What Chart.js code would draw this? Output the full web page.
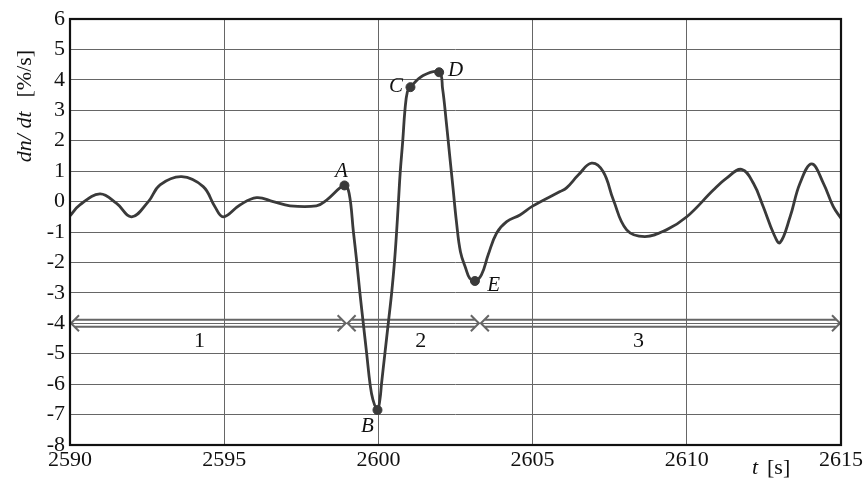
<!DOCTYPE html>
<html>
<head>
<meta charset="utf-8">
<script src="https://cdn.jsdelivr.net/npm/chart.js@4/dist/chart.umd.min.js"></script>
<style>
  html, body { margin: 0; padding: 0; background: #fff; }
  #wrap { width: 868px; height: 484px; position: relative; }
</style>
</head>
<body>
<div id="wrap"><canvas id="c"></canvas></div>
<script>
// time axis [s] and rate of change dn/dt [%/s]
const tSec = [2590, 2590.32, 2590.97, 2591.51, 2592.0, 2592.54, 2592.92, 2593.62, 2594.32, 2594.7,
  2594.97, 2595.51, 2596.05, 2596.59, 2597.13, 2597.99, 2598.32, 2598.9, 2599.05, 2599.19,
  2599.3, 2599.4, 2599.51, 2599.62, 2599.73, 2599.82, 2599.97, 2600.05, 2600.1, 2600.21,
  2600.32, 2600.43, 2600.52, 2600.59, 2600.65, 2600.71, 2600.79, 2600.86, 2600.94, 2601.04,
  2601.45, 2601.97, 2602.08, 2602.2, 2602.31, 2602.42, 2602.53, 2602.66, 2602.83, 2602.96,
  2603.13, 2603.34, 2603.56, 2603.83, 2604.16, 2604.59, 2605.0, 2605.89, 2606.1, 2606.48,
  2606.91, 2607.29, 2607.62, 2608.05, 2608.64, 2609.34, 2610.0, 2610.86, 2611.29, 2611.78,
  2612.16, 2612.48, 2612.81, 2613.02, 2613.35, 2613.67, 2614.05, 2614.43, 2614.75, 2615];
const dndt = [-0.47, -0.11, 0.25, -0.06, -0.5, 0.0, 0.55, 0.82, 0.49, -0.17,
  -0.5, -0.11, 0.13, 0.0, -0.14, -0.14, 0.05, 0.53, 0.27, -1,
  -2, -3, -4, -5, -6, -6.5, -6.85, -6.5, -6, -5,
  -4, -3, -2, -1, 0, 1, 2, 3, 3.61, 3.76,
  4.14, 4.25, 3.72, 2.63, 1.53, 0.44, -0.66, -1.65, -2.19, -2.52,
  -2.61, -2.41, -1.75, -1.04, -0.66, -0.44, -0.15, 0.33, 0.45, 0.87,
  1.26, 0.98, 0.05, -0.93, -1.15, -0.93, -0.5, 0.38, 0.77, 1.06,
  0.6, -0.17, -1.04, -1.35, -0.5, 0.6, 1.24, 0.6, -0.17, -0.55];

// marked points A..E
const markNames = ['A', 'B', 'C', 'D', 'E'];
const markT = [2598.9, 2599.97, 2601.04, 2601.97, 2603.13];
const markV = [0.53, -6.85, 3.76, 4.25, -2.61];
const markLabelT = [2598.8, 2599.64, 2600.57, 2602.5, 2603.74];
const markLabelV = [1.0, -7.4, 3.78, 4.32, -2.76];

// phases 1..3 shown as double arrows at dn/dt = -4
const phaseNames = ['1', '2', '3'];
const phaseStart = [2590, 2598.97, 2603.29];
const phaseEnd = [2598.97, 2603.29, 2615];
const phaseLevel = -4;
const phaseLabelT = [2594.2, 2601.37, 2608.43];
const phaseLabelV = -4.6;

const xTicks = [2590, 2595, 2600, 2605, 2610, 2615];

const SERIF = '"Liberation Serif", "DejaVu Serif", serif';

const framePlugin = {
  id: 'frame',
  afterDraw(chart) {
    const { ctx, chartArea: a } = chart;
    ctx.save();
    ctx.strokeStyle = '#111';
    ctx.lineWidth = 2.2;
    ctx.strokeRect(a.left, a.top, a.right - a.left, a.bottom - a.top);
    ctx.restore();
  }
};

const arrowsPlugin = {
  id: 'phases',
  beforeDatasetsDraw(chart) {
    const { ctx, scales: { x, y } } = chart;
    const yp = y.getPixelForValue(phaseLevel);
    ctx.save();
    ctx.strokeStyle = '#666';
    ctx.lineWidth = 2;
    ctx.lineJoin = 'miter';
    phaseStart.forEach((s, i) => {
      const x1 = x.getPixelForValue(s), x2 = x.getPixelForValue(phaseEnd[i]);
      ctx.beginPath();
      ctx.moveTo(x1 + 5, yp - 3.5); ctx.lineTo(x2 - 5, yp - 3.5);
      ctx.moveTo(x1 + 5, yp + 3.5); ctx.lineTo(x2 - 5, yp + 3.5);
      ctx.moveTo(x1 + 9, yp - 8); ctx.lineTo(x1 + 1, yp); ctx.lineTo(x1 + 9, yp + 8);
      ctx.moveTo(x2 - 9, yp - 8); ctx.lineTo(x2 - 1, yp); ctx.lineTo(x2 - 9, yp + 8);
      ctx.stroke();
    });
    ctx.fillStyle = '#111';
    ctx.font = '22px ' + SERIF;
    ctx.textAlign = 'center';
    ctx.textBaseline = 'middle';
    phaseNames.forEach((n, i) => {
      ctx.fillText(n, x.getPixelForValue(phaseLabelT[i]), y.getPixelForValue(phaseLabelV));
    });
    ctx.restore();
  }
};

const labelsPlugin = {
  id: 'labels',
  afterDraw(chart) {
    const { ctx, scales: { x, y } } = chart;
    ctx.save();
    ctx.fillStyle = '#111';
    ctx.textAlign = 'center';
    ctx.textBaseline = 'middle';
    ctx.font = 'italic 21px ' + SERIF;
    markNames.forEach((n, i) => {
      ctx.fillText(n, x.getPixelForValue(markLabelT[i]), y.getPixelForValue(markLabelV[i]));
    });

    // x axis title: t [s]
    ctx.textAlign = 'left';
    ctx.font = 'italic 22px ' + SERIF;
    ctx.fillText('t', 752, 468);
    ctx.font = '22px ' + SERIF;
    ctx.fillText('[s]', 767, 468);

    // y axis title: dn/dt  [%/s]
    ctx.translate(25, 106);
    ctx.rotate(-Math.PI / 2);
    const a = 'dn/ dt';
    const b = '[%/s]';
    ctx.font = 'italic 22px ' + SERIF;
    const wa = ctx.measureText(a).width;
    ctx.font = '22px ' + SERIF;
    const wb = ctx.measureText(b).width;
    const gap = 14;
    const start = -(wa + gap + wb) / 2;
    ctx.font = 'italic 22px ' + SERIF;
    ctx.fillText(a, start, 0);
    ctx.font = '22px ' + SERIF;
    ctx.fillText(b, start + wa + gap, 0);
    ctx.restore();
  }
};

new Chart(document.getElementById('c'), {
  type: 'line',
  data: {
    datasets: [
      {
        label: 'marks',
        data: markT.map((t, i) => ({ x: t, y: markV[i] })),
        showLine: false,
        pointRadius: 4.5,
        pointBackgroundColor: '#3a3a3a',
        pointBorderColor: '#3a3a3a',
        order: 0
      },
      {
        label: 'dn/dt',
        data: tSec.map((t, i) => ({ x: t, y: dndt[i] })),
        borderColor: '#3a3a3a',
        borderWidth: 2.8,
        pointRadius: 0,
        tension: 0.4,
        fill: false,
        order: 1
      }
    ]
  },
  options: {
    responsive: true,
    maintainAspectRatio: false,
    animation: false,
    layout: { padding: { top: 19, right: 27, left: 0, bottom: 0 } },
    plugins: {
      legend: { display: false },
      tooltip: { enabled: false }
    },
    scales: {
      x: {
        type: 'linear',
        min: 2590, max: 2615,
        afterBuildTicks: s => { s.ticks = xTicks.map(v => ({ value: v })); },
        afterFit: s => { s.height = 39; },
        ticks: { color: '#111', font: { family: SERIF, size: 22 }, padding: 2, maxRotation: 0,
          callback: v => String(v) },
        grid: { color: '#666', lineWidth: 1, drawTicks: false },
        border: { display: false }
      },
      y: {
        min: -8, max: 6,
        afterFit: s => { s.width = 70; },
        ticks: { stepSize: 1, color: '#111', font: { family: SERIF, size: 22 }, padding: 5 },
        grid: { color: '#666', lineWidth: 1, drawTicks: false },
        border: { display: false }
      }
    }
  },
  plugins: [framePlugin, arrowsPlugin, labelsPlugin]
});
</script>
</body>
</html>
